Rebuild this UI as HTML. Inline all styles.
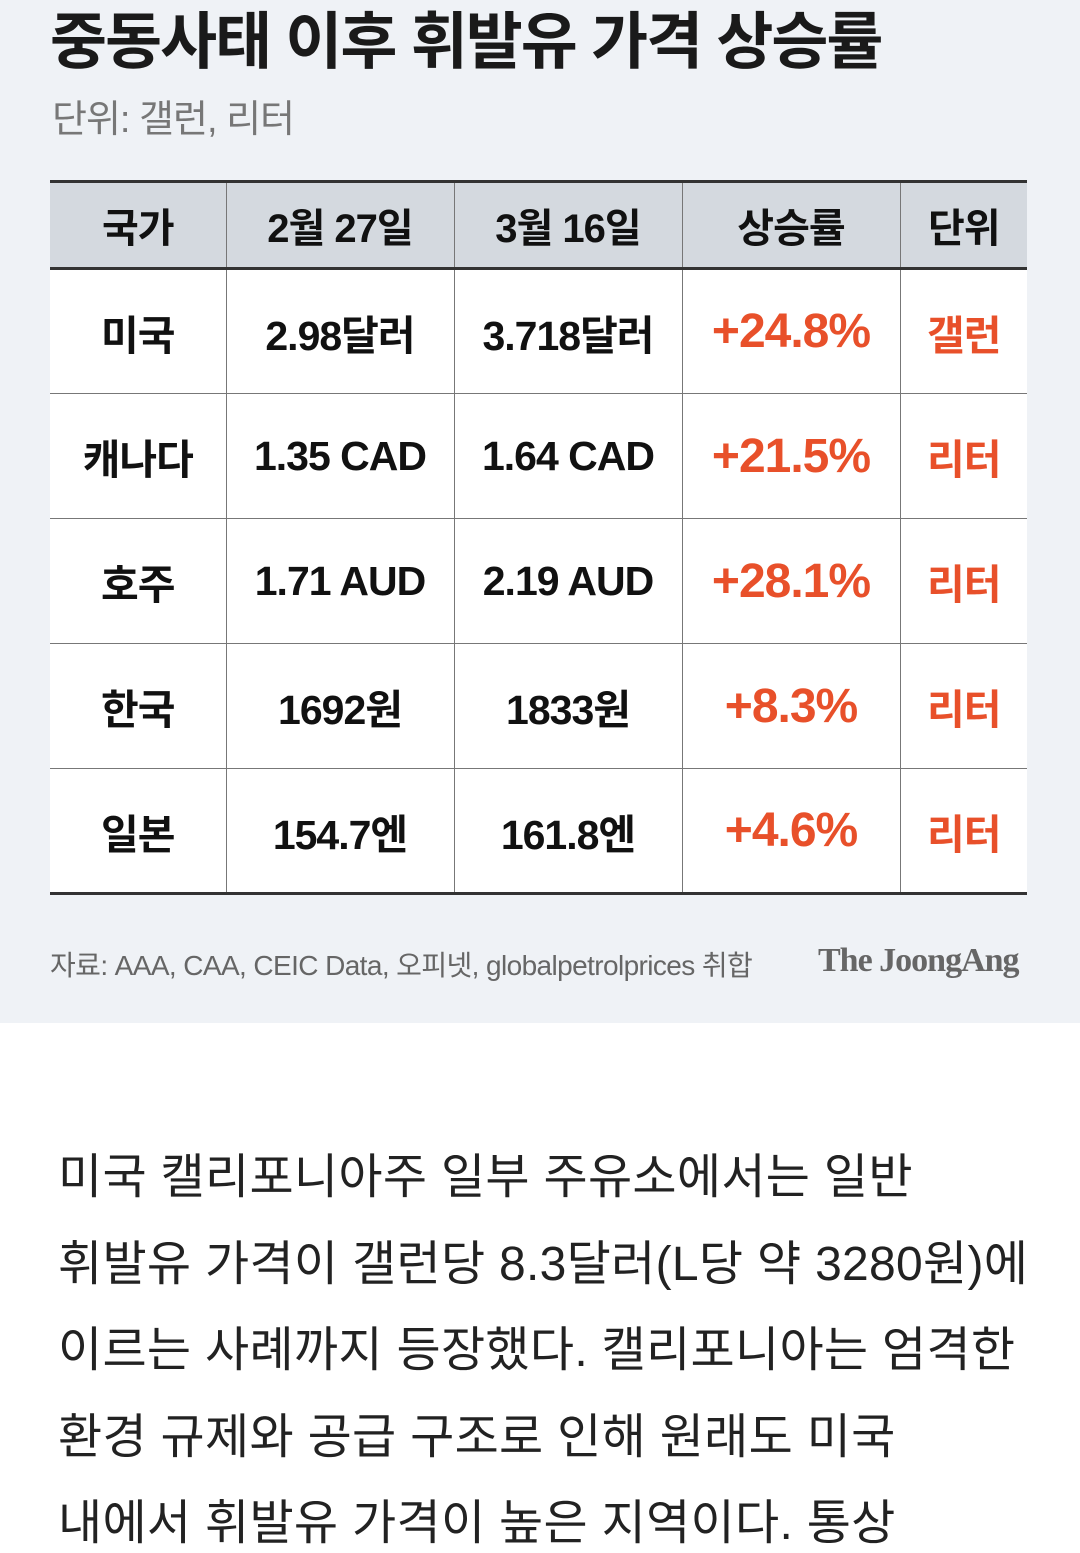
<!DOCTYPE html>
<html><head><meta charset="utf-8"><style>
*{margin:0;padding:0;box-sizing:border-box}
body{width:1080px;height:1544px;overflow:hidden;background:#fff;font-family:"Liberation Sans","Noto Sans CJK KR",sans-serif;position:relative}
#top{position:absolute;left:0;top:0;width:1080px;height:1023px;background:#eff2f6}
.t{position:absolute;white-space:nowrap}
table{position:absolute;left:50px;top:180px;width:977px;border-collapse:collapse;table-layout:fixed;background:#fff}
td{text-align:center;border:1px solid #777;font-size:41px;color:#111;height:125px;letter-spacing:-1px;font-weight:bold}
tr:first-child td{background:#d4d9df;height:87px;font-weight:bold;font-size:40px;border-top:3px solid #333;border-bottom:3px solid #333}
tr:last-child td{border-bottom:3px solid #333}
td:first-child{border-left:none;font-weight:bold}
td:last-child{border-right:none}
.r{color:#e8502a;font-weight:bold}
.p{font-size:48px}
.b{position:absolute;left:58px;font-size:48px;color:#222;white-space:nowrap;letter-spacing:0.3px}
</style></head><body>
<div id="top"></div>
<div class="t" style="left:50px;top:-9px;font-size:62px;font-weight:bold;color:#1a1a1a;letter-spacing:-2px">중동사태 이후 휘발유 가격 상승률</div>
<div class="t" style="left:52px;top:88px;font-size:38px;color:#777;letter-spacing:-1px">단위: 갤런, 리터</div>
<table>
<colgroup><col style="width:176px"><col style="width:228px"><col style="width:228px"><col style="width:218px"><col style="width:127px"></colgroup>
<tr><td>국가</td><td>2월 27일</td><td>3월 16일</td><td>상승률</td><td>단위</td></tr>
<tr><td>미국</td><td>2.98달러</td><td>3.718달러</td><td class="r p">+24.8%</td><td class="r">갤런</td></tr>
<tr><td>캐나다</td><td>1.35 CAD</td><td>1.64 CAD</td><td class="r p">+21.5%</td><td class="r">리터</td></tr>
<tr><td>호주</td><td>1.71 AUD</td><td>2.19 AUD</td><td class="r p">+28.1%</td><td class="r">리터</td></tr>
<tr><td>한국</td><td>1692원</td><td>1833원</td><td class="r p">+8.3%</td><td class="r">리터</td></tr>
<tr><td>일본</td><td>154.7엔</td><td>161.8엔</td><td class="r p">+4.6%</td><td class="r">리터</td></tr>
</table>
<div class="t" style="left:50px;top:944px;font-size:28px;color:#666;letter-spacing:-0.6px">자료: AAA, CAA, CEIC Data, 오피넷, globalpetrolprices 취합</div>
<div class="t" style="left:818px;top:942px;font-size:34px;color:#666;font-weight:bold;font-family:'Liberation Serif',serif;letter-spacing:-1px">The JoongAng</div>
<div class="b" style="top:1137px">미국 캘리포니아주 일부 주유소에서는 일반</div>
<div class="b" style="top:1224px">휘발유 가격이 갤런당 8.3달러(L당 약 3280원)에</div>
<div class="b" style="top:1310px">이르는 사례까지 등장했다. 캘리포니아는 엄격한</div>
<div class="b" style="top:1397px">환경 규제와 공급 구조로 인해 원래도 미국</div>
<div class="b" style="top:1483px">내에서 휘발유 가격이 높은 지역이다. 통상</div>
</body></html>
